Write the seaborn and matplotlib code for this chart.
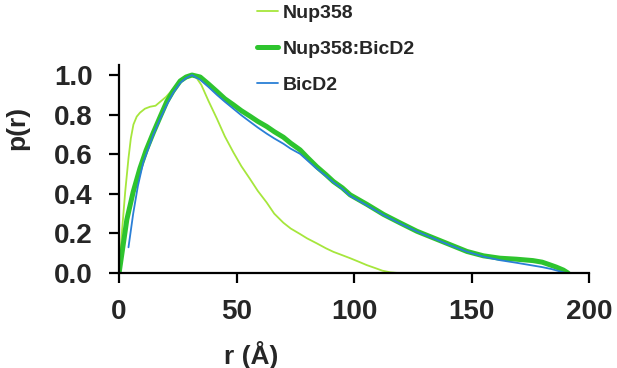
import numpy as np
import pandas as pd
import matplotlib
matplotlib.use("Agg")
import matplotlib.pyplot as plt
import seaborn as sns

# P(r) distance distributions
r_nup = [0, 1.3, 2.6, 4, 5, 6.1, 7.5, 8.9, 11, 13.2, 15.5, 17.5, 20, 23, 26, 28.5, 31, 33, 35, 38,
         41.6, 45, 48.6, 52, 55.7, 59, 62.8, 66, 69.9, 73, 77, 80, 84.1, 88, 91.2, 95, 98.3, 102,
         105.4, 109, 112, 115.3, 118, 121]
p_nup = [0, 0.22, 0.41, 0.58, 0.68, 0.75, 0.79, 0.81, 0.83, 0.84, 0.845, 0.865, 0.89, 0.93, 0.97,
         0.99, 1.0, 0.985, 0.95, 0.87, 0.78, 0.69, 0.61, 0.54, 0.475, 0.415, 0.356, 0.30, 0.254,
         0.225, 0.197, 0.175, 0.15, 0.125, 0.107, 0.09, 0.075, 0.057, 0.04, 0.025, 0.012, 0.004,
         0.001, 0]

r_complex = [0, 3.3, 6, 8.9, 11.5, 14.6, 17.5, 20.3, 23, 26, 28.5, 31, 34.5, 38, 41.6, 45, 48.6,
             52, 55.7, 59, 62.8, 66, 69.9, 73, 77, 80, 84.1, 88, 91.2, 95, 98.3, 105.4, 112.5,
             119.6, 126.7, 133.8, 140.9, 148, 155, 162, 169, 176, 180, 183.4, 186, 189, 191]
p_complex = [0, 0.27, 0.41, 0.53, 0.62, 0.71, 0.79, 0.866, 0.92, 0.97, 0.99, 1.0, 0.99, 0.955,
             0.917, 0.88, 0.85, 0.82, 0.792, 0.766, 0.74, 0.714, 0.686, 0.656, 0.622, 0.585, 0.537,
             0.497, 0.462, 0.43, 0.395, 0.347, 0.296, 0.253, 0.211, 0.177, 0.143, 0.109, 0.087,
             0.075, 0.07, 0.063, 0.055, 0.041, 0.03, 0.015, 0]

r_bicd2 = [4, 6, 8, 10.3, 12.5, 14.6, 17.5, 20.3, 23, 26, 28.5, 31, 34.5, 38, 41.6, 45, 48.6, 52,
           55.7, 59, 62.8, 66, 69.9, 73, 77, 80, 84.1, 88, 91.2, 95, 98.3, 105.4, 112.5, 119.6,
           126.7, 133.8, 140.9, 148, 155, 162, 169, 176, 180, 184, 187, 190]
p_bicd2 = [0.13, 0.3, 0.44, 0.56, 0.63, 0.7, 0.78, 0.85, 0.91, 0.96, 0.985, 1.0, 0.976, 0.94, 0.9,
           0.865, 0.83, 0.797, 0.764, 0.735, 0.704, 0.68, 0.653, 0.628, 0.602, 0.57, 0.527, 0.49,
           0.458, 0.425, 0.39, 0.342, 0.293, 0.25, 0.21, 0.175, 0.14, 0.108, 0.083, 0.065, 0.052,
           0.038, 0.03, 0.02, 0.01, 0]

x_ticks = [0, 50, 100, 150, 200]
y_ticks = [0.0, 0.2, 0.4, 0.6, 0.8, 1.0]

sns.set_style("white")
plt.rcParams["font.family"] = ["Liberation Sans", "DejaVu Sans"]
plt.rcParams["font.weight"] = "bold"

fig = plt.figure(figsize=(6.17, 3.68), dpi=100)
ax = fig.add_axes([0.193, 0.258, 0.762, 0.565])

sns.lineplot(x=r_nup, y=p_nup, ax=ax, color="#a6e63c", linewidth=1.3, sort=False,
             estimator=None, label="Nup358")
sns.lineplot(x=r_complex, y=p_complex, ax=ax, color="#2ec42e", linewidth=3.6, sort=False,
             estimator=None, label="Nup358:BicD2")
sns.lineplot(x=r_bicd2, y=p_bicd2, ax=ax, color="#2a7fd6", linewidth=1.3, sort=False,
             estimator=None, label="BicD2")

ax.set_xlim(0, 200)
ax.set_ylim(0, 1.05)
ax.set_xticks(x_ticks)
ax.set_yticks(y_ticks)
ax.set_xticklabels([str(t) for t in x_ticks])
ax.set_yticklabels([f"{t:.1f}" for t in y_ticks])
ax.tick_params(axis="both", direction="out", length=7, width=1.6, color="black",
               labelsize=20, pad=12, left=True, bottom=True)
for lab in ax.get_xticklabels() + ax.get_yticklabels():
    lab.set_fontweight("bold")

sns.despine(ax=ax)
for side in ["left", "bottom"]:
    ax.spines[side].set_linewidth(1.6)
    ax.spines[side].set_color("black")

ax.set_xlabel("r (Å)", fontsize=19, fontweight="bold")
ax.set_ylabel("p(r)", fontsize=19, fontweight="bold")
ax.xaxis.set_label_coords(0.281, -0.394)
ax.yaxis.set_label_coords(-0.216, 0.70)
ax.xaxis.label.set_va("center")
ax.yaxis.label.set_va("center")

ax.legend(loc="upper left", bbox_to_anchor=(0.4165, 0.988), bbox_transform=fig.transFigure,
          frameon=False, handlelength=1.1, handletextpad=0.2,
          labelspacing=0.95, borderpad=0, borderaxespad=0,
          prop={"weight": "bold", "size": 14})

fig.savefig("out.png", dpi=100)
